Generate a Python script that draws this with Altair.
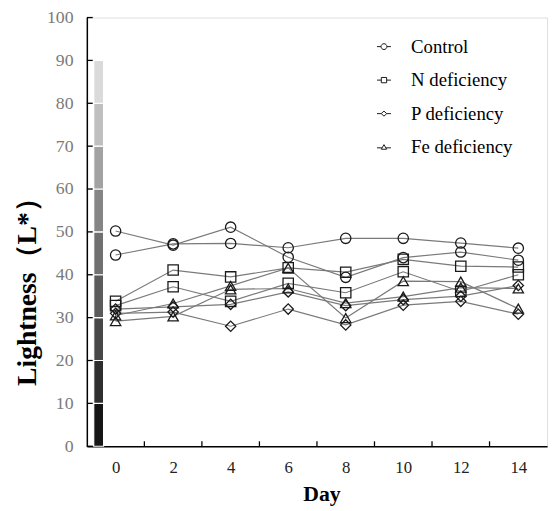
import altair as alt
import pandas as pd

# ---- data ----
days = [0, 2, 4, 6, 8, 10, 12, 14]
treatments = ["Control", "N deficiency", "P deficiency", "Fe deficiency"]
control_a = [50.2, 46.9, 51.1, 44.1, 39.4, 44.0, 45.3, 43.4]
control_b = [44.6, 47.2, 47.3, 46.3, 48.5, 48.5, 47.4, 46.2]
n_a = [33.8, 41.1, 39.5, 41.6, 40.6, 43.6, 42.0, 41.8]
n_b = [32.8, 37.2, 33.8, 38.0, 35.8, 40.7, 36.1, 40.0]
p_a = [32.0, 32.5, 33.1, 36.0, 32.8, 34.2, 35.0, 37.5]
p_b = [31.0, 31.3, 28.0, 32.0, 28.3, 32.9, 33.8, 30.8]
fe_a = [30.5, 33.3, 37.4, 41.6, 29.9, 38.5, 38.4, 32.1]
fe_b = [29.2, 30.3, 36.6, 36.8, 33.4, 34.9, 37.0, 36.8]

# lightness reference strip
strip_lo = [0, 10, 20, 30, 40, 50, 60, 70, 80]
strip_hi = [10, 20, 30, 40, 50, 60, 70, 80, 90]
strip_col = ["#161616", "#2e2e2e", "#474747", "#5b5b5b", "#707070",
             "#858585", "#a2a2a2", "#bfbfbf", "#dadada"]

y_ticks = [0, 10, 20, 30, 40, 50, 60, 70, 80, 90, 100]
x_labels = [0, 2, 4, 6, 8, 10, 12, 14]
x_tick_pos = [1, 3, 5, 7, 9, 11, 13]

series = [
    ("Control", "a", control_a), ("Control", "b", control_b),
    ("N deficiency", "a", n_a), ("N deficiency", "b", n_b),
    ("P deficiency", "a", p_a), ("P deficiency", "b", p_b),
    ("Fe deficiency", "a", fe_a), ("Fe deficiency", "b", fe_b),
]
rows = []
for t, r, vals in series:
    for d, v in zip(days, vals):
        rows.append({"day": d, "value": v, "treatment": t, "rep": t + r})
df = pd.DataFrame(rows)
strip_df = pd.DataFrame({"lo": strip_lo, "hi": strip_hi, "col": strip_col})
yt_df = pd.DataFrame({"v": y_ticks})
xt_df = pd.DataFrame({"d": x_tick_pos})

W, H = 467, 435
FONT = "Liberation Serif"
xscale = alt.Scale(domain=[-1, 15], nice=False, zero=False)
yscale = alt.Scale(domain=[0, 100], nice=False)

x_axis = alt.Axis(values=x_labels, ticks=False, tickSize=0, grid=False,
                  labelFont=FONT, labelFontSize=17, labelColor="#222222",
                  labelPadding=14, title="Day", titleFont=FONT,
                  titleFontSize=22, titleFontWeight="bold", titleColor="black",
                  titlePadding=8, titleX=238, domainColor="black", domainWidth=1.5)
y_axis = alt.Axis(values=y_ticks, ticks=False, tickSize=0, grid=False,
                  labelFont=FONT, labelFontSize=18, labelColor="#7a7a7a",
                  labelPadding=14, title="Lightness（L*）", titleFont=FONT,
                  titleFontSize=28, titleFontWeight="bold", titleColor="black",
                  titlePadding=5, titleY=271, domainColor="black", domainWidth=1.5)

strip = alt.Chart(strip_df).mark_rect(stroke="white", strokeWidth=1.2).encode(
    x=alt.value(7), x2=alt.value(17),
    y=alt.Y("lo:Q", scale=yscale, axis=y_axis), y2="hi:Q",
    fill=alt.Fill("col:N", scale=None),
)

lines = alt.Chart(df).mark_line(color="#7a7a7a", strokeWidth=1.2).encode(
    x=alt.X("day:Q", scale=xscale, axis=x_axis),
    y=alt.Y("value:Q", scale=yscale, axis=y_axis),
    detail="rep:N",
)

points = alt.Chart(df).mark_point(filled=False, size=110, stroke="#1a1a1a",
                                  strokeWidth=1.3, opacity=1).encode(
    x=alt.X("day:Q", scale=xscale, axis=x_axis),
    y=alt.Y("value:Q", scale=yscale, axis=y_axis),
    shape=alt.Shape("treatment:N", legend=None,
                    scale=alt.Scale(domain=treatments,
                                    range=["circle", "square", "diamond", "triangle-up"])),
)

leg_paths = [
    "M-1,0L-0.42,0M0.42,0L1,0M-0.42,0A0.42,0.42 0 1,0 0.42,0A0.42,0.42 0 1,0 -0.42,0",
    "M-1,0L-0.38,0M0.38,0L1,0M-0.38,-0.38L0.38,-0.38L0.38,0.38L-0.38,0.38Z",
    "M-1,0L-0.4,0M0.4,0L1,0M0,-0.36L0.4,0L0,0.36L-0.4,0Z",
    "M-1,0.1L-0.3,0.1M0.3,0.1L1,0.1M0,-0.36L0.38,0.3L-0.38,0.3Z",
]
legend_layer = alt.Chart(df).mark_point(filled=False, opacity=0).encode(
    x=alt.X("day:Q", scale=xscale, axis=x_axis),
    y=alt.Y("value:Q", scale=yscale, axis=y_axis),
    shape=alt.Shape("treatment:N",
                    scale=alt.Scale(domain=treatments, range=leg_paths),
                    legend=alt.Legend(title=None, orient="none", legendX=292,
                                      legendY=20, symbolOpacity=1,
                                      symbolSize=200, symbolStrokeWidth=1,
                                      symbolStrokeColor="#1a1a1a",
                                      symbolFillColor="transparent",
                                      labelFont=FONT, labelFontSize=19,
                                      labelColor="black", rowPadding=14,
                                      labelOffset=18)),
)

yticks = alt.Chart(yt_df).mark_rule(color="black", strokeWidth=1.3).encode(
    x=alt.value(0), x2=alt.value(6),
    y=alt.Y("v:Q", scale=yscale, axis=y_axis),
)
xticks = alt.Chart(xt_df).mark_rule(color="black", strokeWidth=1.3).encode(
    x=alt.X("d:Q", scale=xscale, axis=x_axis),
    y=alt.value(H), y2=alt.value(H - 5),
)

chart = alt.layer(strip, lines, points, legend_layer, yticks, xticks).resolve_scale(
    shape="independent"
).properties(
    width=W, height=H,
    autosize=alt.AutoSizeParams(type="none"),
    padding={"left": 80, "top": 6, "right": 5, "bottom": 60},
).configure_view(stroke=None).configure(background="white")

chart.save("out.html", embed_options={"renderer": "svg", "actions": False})
